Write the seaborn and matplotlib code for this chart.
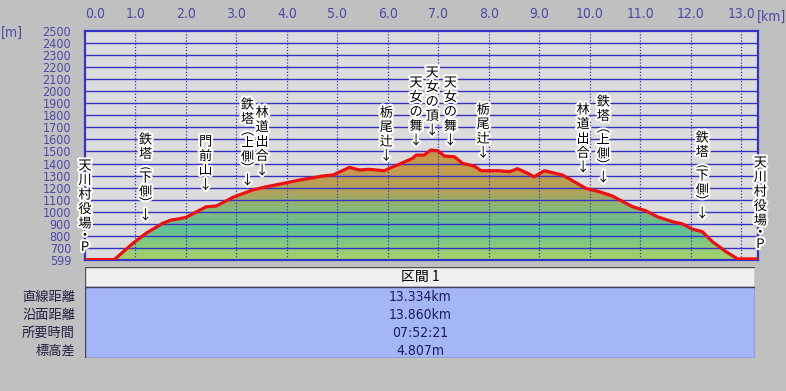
import numpy as np
import matplotlib
matplotlib.use("Agg")
import matplotlib.pyplot as plt
import matplotlib.patheffects as pe
from matplotlib.colors import LinearSegmentedColormap
from matplotlib.patches import Rectangle
import seaborn as sns

# elevation profile
dist_km = [0.00, 0.58, 0.95, 1.21, 1.54, 1.70, 1.85, 2.00, 2.40, 2.60, 2.93, 3.32, 3.59,
           3.90, 4.10, 4.25, 4.50, 4.70, 4.91, 5.24, 5.44, 5.63, 5.93, 6.03, 6.23, 6.49,
           6.56, 6.72, 6.85, 6.99, 7.12, 7.32, 7.48, 7.71, 7.85, 8.21, 8.41, 8.57, 8.77,
           8.90, 9.10, 9.46, 9.66, 9.92, 10.19, 10.45, 10.85, 11.11, 11.34, 11.64, 11.84,
           12.04, 12.23, 12.43, 12.70, 12.93, 13.334]
elev_m = [602, 602, 738, 821, 904, 930, 940, 953, 1041, 1047, 1119, 1180, 1207,
          1232, 1250, 1263, 1280, 1296, 1304, 1368, 1346, 1352, 1340, 1360, 1395, 1443,
          1470, 1470, 1512, 1506, 1462, 1456, 1401, 1379, 1340, 1340, 1332, 1357, 1319,
          1290, 1340, 1304, 1257, 1194, 1166, 1130, 1041, 1008, 958, 917, 898,
          854, 834, 751, 668, 608, 608]

# waypoints
wp_names = ["天川村役場・P", "鉄塔︵下側︶", "門前山", "鉄塔︵上側︶", "林道出合", "栃尾辻",
            "天女の舞", "天女の頂", "天女の舞", "栃尾辻", "林道出合", "鉄塔︵上側︶",
            "鉄塔︵下側︶", "天川村役場・P"]
wp_km = [0.0, 1.20, 2.39, 3.22, 3.51, 5.97, 6.56, 6.88, 7.24, 7.89, 9.87, 10.27, 12.23, 13.38]
wp_top = [1379, 1595, 1578, 1885, 1819, 1819, 2068, 2151, 2068, 1844, 1844, 1910, 1611, 1404]
wp_arrow = [False] + [True] * 12 + [False]

x_ticks = list(range(0, 14))
y_ticks = [599] + list(range(700, 2600, 100))

section_name = "区間 1"
row_names = ["直線距離", "沿面距離", "所要時間", "標高差"]
row_values = ["13.334km", "13.860km", "07:52:21", "4.807m"]

sns.set_style("white")
plt.rcParams['font.family'] = ['Noto Sans CJK JP', 'DejaVu Sans']
num_font = dict(family='DejaVu Sans', stretch='condensed', fontsize=9)

blue = '#3434c4'
tick_col = '#4a4aa8'
bg = '#c0c0c0'

fig = plt.figure(figsize=(7.86, 3.91), dpi=100, facecolor=bg)
ax = fig.add_axes([85 / 786, 1 - 260 / 391, 673 / 786, 229 / 391])
ax.set_facecolor('#dcdcdc')

# gradient fill under the profile
fill = ax.fill_between(dist_km, elev_m, 599, color='none', linewidth=0)
cmap = LinearSegmentedColormap.from_list('prof', [
    (0.0, '#a8d468'), (0.12, '#8ccc78'), (0.28, '#5ec296'),
    (0.45, '#84b87c'), (0.62, '#b0a45a'), (0.8, '#c49c50'), (1.0, '#c89644')])
grad = ax.imshow(np.linspace(0, 1, 256)[:, None], extent=(0, 13.334, 599, 1520),
                 origin='lower', aspect='auto', cmap=cmap, zorder=1)
grad.set_clip_path(fill.get_paths()[0], transform=ax.transData)

for y in range(700, 2500, 100):
    ax.axhline(y, color=blue, lw=1.0, zorder=2)
for x in x_ticks[1:]:
    ax.axvline(x, color=blue, lw=0.9, ls=(0, (1, 1.5)), zorder=2)

sns.lineplot(x=dist_km, y=elev_m, color='#ee1010', linewidth=2.3, ax=ax, zorder=4)

ax.set_xlim(0, 13.334)
ax.set_ylim(599, 2500)

ax.xaxis.tick_top()
ax.set_xticks(x_ticks)
ax.set_xticklabels([f"{v:.1f}" for v in x_ticks], color=tick_col, **dict(num_font, fontsize=10))
ax.get_xticklabels()[0].set_ha('left')
ax.set_yticks(y_ticks)
ax.set_yticklabels([str(v) for v in y_ticks], color=tick_col, **num_font)
ax.tick_params(axis='x', length=0, pad=7)
ax.tick_params(axis='y', length=0, pad=10)
ax.set_xlabel('')
ax.set_ylabel('')
for s in ax.spines.values():
    s.set_color(blue)
    s.set_linewidth(1.6)

fig.text(772 / 786, 1 - 17 / 391, "[km]", color=tick_col, ha='center', va='center',
         **dict(num_font, fontsize=10))
fig.text(12 / 786, 1 - 33 / 391, "[m]", color=tick_col, ha='center', va='center',
         **dict(num_font, fontsize=10))

# vertical waypoint labels
halo = [pe.withStroke(linewidth=3, foreground='white')]
small = set('︵︶・')
for name, km, top, arrow in zip(wp_names, wp_km, wp_top, wp_arrow):
    chars = list(name) + (['↓'] if arrow else [])
    off = 0.0
    prev_h = None
    for ch in chars:
        h = 9 if ch in small else 14.5
        if prev_h is not None:
            off += (prev_h + h) / 2
        prev_h = h
        ax.annotate(ch, xy=(km, top), xytext=(0, -off * 0.72), textcoords='offset points',
                    ha='center', va='center', fontsize=9.5, color='black',
                    path_effects=halo, annotation_clip=False, zorder=6)

# table below
tab = fig.add_axes([85 / 786, 1 - 358 / 391, 670 / 786, 91 / 391])
tab.set_xlim(0, 1)
tab.set_ylim(91, 0)
tab.axis('off')
tab.add_patch(Rectangle((0, 0), 1, 20, facecolor='#f0f0f0', edgecolor='#505050', lw=1))
tab.add_patch(Rectangle((0, 20), 1, 71, facecolor='#a4b6f8', edgecolor='#404060', lw=1))
tab.text(0.5, 10, section_name, ha='center', va='center', fontsize=10, color='black')
for i, (name, val) in enumerate(zip(row_names, row_values)):
    y = 30 + 18 * i
    tab.text(0.5, y, val, ha='center', va='center', color='#1c1c60',
             **dict(num_font, fontsize=10))
    fig.text(75 / 786, 1 - (267 + y) / 391, name, ha='right', va='center',
             fontsize=9.5, color='#202040')

fig.savefig("out.png", dpi=100, facecolor=bg)
